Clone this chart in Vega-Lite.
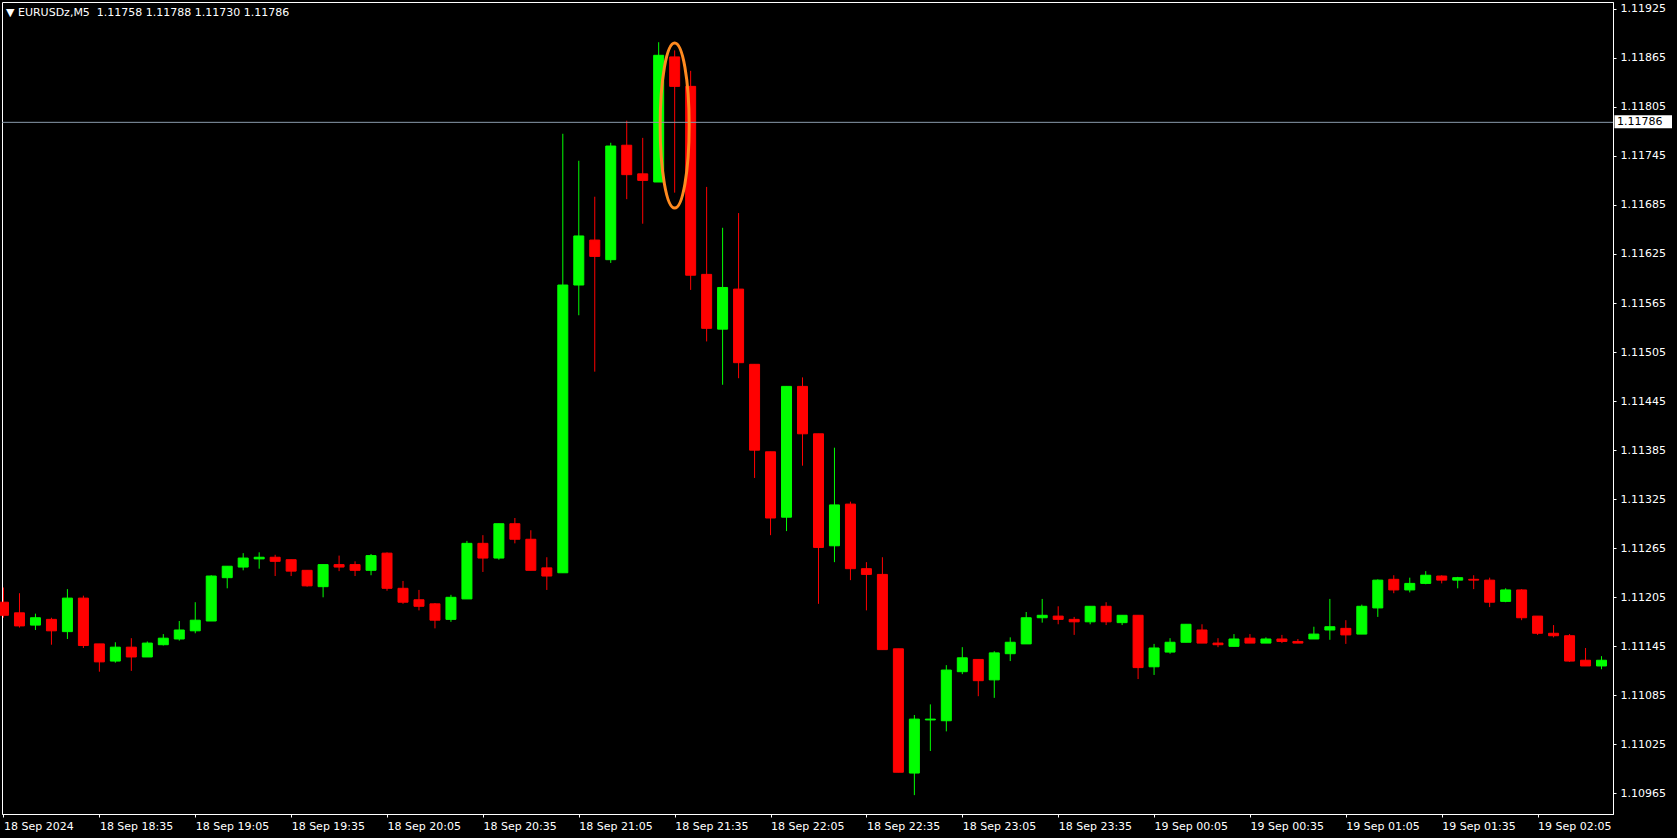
{
  "$schema": "https://vega.github.io/schema/vega-lite/v6.json",
  "width": 1611,
  "height": 812,
  "autosize": {"type": "none"},
  "padding": {"left": 2, "top": 2, "right": 64, "bottom": 24},
  "background": "#000000",
  "title": {
    "text": "▼ EURUSDz,M5 \u00a01.11758 1.11788 1.11730 1.11786",
    "anchor": "start",
    "frame": "group",
    "offset": -16,
    "dx": 4,
    "color": "#ffffff",
    "font": "DejaVu Sans",
    "fontSize": 11,
    "fontWeight": "normal"
  },
  "config": {
    "view": {"stroke": "#ffffff", "strokeWidth": 1},
    "axis": {
      "domainColor": "#ffffff",
      "tickColor": "#ffffff",
      "labelColor": "#ffffff",
      "labelFont": "DejaVu Sans",
      "labelFontSize": 11,
      "grid": false,
      "title": null
    }
  },
  "data": {
    "values": [
      {"t": "2024-09-18T18:05:00Z", "o": 1.11199, "h": 1.11217, "l": 1.11180, "c": 1.11183},
      {"t": "2024-09-18T18:10:00Z", "o": 1.11186, "h": 1.11210, "l": 1.11168, "c": 1.11170},
      {"t": "2024-09-18T18:15:00Z", "o": 1.11171, "h": 1.11185, "l": 1.11165, "c": 1.11180},
      {"t": "2024-09-18T18:20:00Z", "o": 1.11178, "h": 1.11180, "l": 1.11147, "c": 1.11164},
      {"t": "2024-09-18T18:25:00Z", "o": 1.11163, "h": 1.11215, "l": 1.11154, "c": 1.11204},
      {"t": "2024-09-18T18:30:00Z", "o": 1.11204, "h": 1.11207, "l": 1.11143, "c": 1.11146},
      {"t": "2024-09-18T18:35:00Z", "o": 1.11148, "h": 1.11148, "l": 1.11114, "c": 1.11126},
      {"t": "2024-09-18T18:40:00Z", "o": 1.11127, "h": 1.11150, "l": 1.11125, "c": 1.11144},
      {"t": "2024-09-18T18:45:00Z", "o": 1.11144, "h": 1.11155, "l": 1.11115, "c": 1.11132},
      {"t": "2024-09-18T18:50:00Z", "o": 1.11132, "h": 1.11151, "l": 1.11132, "c": 1.11149},
      {"t": "2024-09-18T18:55:00Z", "o": 1.11147, "h": 1.11160, "l": 1.11146, "c": 1.11155},
      {"t": "2024-09-18T19:00:00Z", "o": 1.11154, "h": 1.11176, "l": 1.11152, "c": 1.11165},
      {"t": "2024-09-18T19:05:00Z", "o": 1.11164, "h": 1.11199, "l": 1.11161, "c": 1.11177},
      {"t": "2024-09-18T19:10:00Z", "o": 1.11176, "h": 1.11232, "l": 1.11176, "c": 1.11231},
      {"t": "2024-09-18T19:15:00Z", "o": 1.11229, "h": 1.11243, "l": 1.11216, "c": 1.11243},
      {"t": "2024-09-18T19:20:00Z", "o": 1.11242, "h": 1.11259, "l": 1.11238, "c": 1.11253},
      {"t": "2024-09-18T19:25:00Z", "o": 1.11252, "h": 1.11260, "l": 1.11240, "c": 1.11254},
      {"t": "2024-09-18T19:30:00Z", "o": 1.11254, "h": 1.11257, "l": 1.11231, "c": 1.11249},
      {"t": "2024-09-18T19:35:00Z", "o": 1.11251, "h": 1.11251, "l": 1.11231, "c": 1.11237},
      {"t": "2024-09-18T19:40:00Z", "o": 1.11238, "h": 1.11238, "l": 1.11218, "c": 1.11219},
      {"t": "2024-09-18T19:45:00Z", "o": 1.11218, "h": 1.11245, "l": 1.11205, "c": 1.11245},
      {"t": "2024-09-18T19:50:00Z", "o": 1.11245, "h": 1.11256, "l": 1.11237, "c": 1.11242},
      {"t": "2024-09-18T19:55:00Z", "o": 1.11245, "h": 1.11249, "l": 1.11231, "c": 1.11238},
      {"t": "2024-09-18T20:00:00Z", "o": 1.11238, "h": 1.11258, "l": 1.11232, "c": 1.11256},
      {"t": "2024-09-18T20:05:00Z", "o": 1.11259, "h": 1.11260, "l": 1.11213, "c": 1.11216},
      {"t": "2024-09-18T20:10:00Z", "o": 1.11216, "h": 1.11225, "l": 1.11197, "c": 1.11199},
      {"t": "2024-09-18T20:15:00Z", "o": 1.11202, "h": 1.11214, "l": 1.11189, "c": 1.11194},
      {"t": "2024-09-18T20:20:00Z", "o": 1.11197, "h": 1.11198, "l": 1.11167, "c": 1.11177},
      {"t": "2024-09-18T20:25:00Z", "o": 1.11178, "h": 1.11208, "l": 1.11175, "c": 1.11205},
      {"t": "2024-09-18T20:30:00Z", "o": 1.11203, "h": 1.11274, "l": 1.11203, "c": 1.11271},
      {"t": "2024-09-18T20:35:00Z", "o": 1.11271, "h": 1.11281, "l": 1.11236, "c": 1.11253},
      {"t": "2024-09-18T20:40:00Z", "o": 1.11253, "h": 1.11295, "l": 1.11251, "c": 1.11295},
      {"t": "2024-09-18T20:45:00Z", "o": 1.11295, "h": 1.11302, "l": 1.11271, "c": 1.11276},
      {"t": "2024-09-18T20:50:00Z", "o": 1.11276, "h": 1.11287, "l": 1.11238, "c": 1.11238},
      {"t": "2024-09-18T20:55:00Z", "o": 1.11241, "h": 1.11254, "l": 1.11214, "c": 1.11231},
      {"t": "2024-09-18T21:00:00Z", "o": 1.11235, "h": 1.11772, "l": 1.11235, "c": 1.11587},
      {"t": "2024-09-18T21:05:00Z", "o": 1.11587, "h": 1.11739, "l": 1.11550, "c": 1.11647},
      {"t": "2024-09-18T21:10:00Z", "o": 1.11642, "h": 1.11695, "l": 1.11481, "c": 1.11622},
      {"t": "2024-09-18T21:15:00Z", "o": 1.11618, "h": 1.11761, "l": 1.11614, "c": 1.11757},
      {"t": "2024-09-18T21:20:00Z", "o": 1.11758, "h": 1.11788, "l": 1.11692, "c": 1.11722},
      {"t": "2024-09-18T21:25:00Z", "o": 1.11723, "h": 1.11767, "l": 1.11662, "c": 1.11715},
      {"t": "2024-09-18T21:30:00Z", "o": 1.11713, "h": 1.11884, "l": 1.11713, "c": 1.11868},
      {"t": "2024-09-18T21:35:00Z", "o": 1.11866, "h": 1.11874, "l": 1.11700, "c": 1.11830},
      {"t": "2024-09-18T21:40:00Z", "o": 1.11830, "h": 1.11849, "l": 1.11581, "c": 1.11599},
      {"t": "2024-09-18T21:45:00Z", "o": 1.11600, "h": 1.11707, "l": 1.11518, "c": 1.11534},
      {"t": "2024-09-18T21:50:00Z", "o": 1.11533, "h": 1.11657, "l": 1.11465, "c": 1.11584},
      {"t": "2024-09-18T21:55:00Z", "o": 1.11582, "h": 1.11675, "l": 1.11473, "c": 1.11492},
      {"t": "2024-09-18T22:00:00Z", "o": 1.11490, "h": 1.11490, "l": 1.11351, "c": 1.11385},
      {"t": "2024-09-18T22:05:00Z", "o": 1.11383, "h": 1.11383, "l": 1.11281, "c": 1.11302},
      {"t": "2024-09-18T22:10:00Z", "o": 1.11303, "h": 1.11463, "l": 1.11286, "c": 1.11463},
      {"t": "2024-09-18T22:15:00Z", "o": 1.11463, "h": 1.11474, "l": 1.11366, "c": 1.11405},
      {"t": "2024-09-18T22:20:00Z", "o": 1.11405, "h": 1.11405, "l": 1.11197, "c": 1.11266},
      {"t": "2024-09-18T22:25:00Z", "o": 1.11268, "h": 1.11388, "l": 1.11248, "c": 1.11318},
      {"t": "2024-09-18T22:30:00Z", "o": 1.11319, "h": 1.11322, "l": 1.11226, "c": 1.11240},
      {"t": "2024-09-18T22:35:00Z", "o": 1.11240, "h": 1.11248, "l": 1.11189, "c": 1.11233},
      {"t": "2024-09-18T22:40:00Z", "o": 1.11233, "h": 1.11254, "l": 1.11141, "c": 1.11141},
      {"t": "2024-09-18T22:45:00Z", "o": 1.11142, "h": 1.11142, "l": 1.10991, "c": 1.10991},
      {"t": "2024-09-18T22:50:00Z", "o": 1.10990, "h": 1.11061, "l": 1.10963, "c": 1.11056},
      {"t": "2024-09-18T22:55:00Z", "o": 1.11055, "h": 1.11074, "l": 1.11017, "c": 1.11056},
      {"t": "2024-09-18T23:00:00Z", "o": 1.11054, "h": 1.11122, "l": 1.11041, "c": 1.11116},
      {"t": "2024-09-18T23:05:00Z", "o": 1.11114, "h": 1.11144, "l": 1.11111, "c": 1.11131},
      {"t": "2024-09-18T23:10:00Z", "o": 1.11129, "h": 1.11129, "l": 1.11084, "c": 1.11103},
      {"t": "2024-09-18T23:15:00Z", "o": 1.11104, "h": 1.11139, "l": 1.11082, "c": 1.11137},
      {"t": "2024-09-18T23:20:00Z", "o": 1.11136, "h": 1.11156, "l": 1.11127, "c": 1.11150},
      {"t": "2024-09-18T23:25:00Z", "o": 1.11148, "h": 1.11187, "l": 1.11148, "c": 1.11180},
      {"t": "2024-09-18T23:30:00Z", "o": 1.11180, "h": 1.11203, "l": 1.11174, "c": 1.11183},
      {"t": "2024-09-18T23:35:00Z", "o": 1.11182, "h": 1.11194, "l": 1.11172, "c": 1.11178},
      {"t": "2024-09-18T23:40:00Z", "o": 1.11178, "h": 1.11181, "l": 1.11159, "c": 1.11175},
      {"t": "2024-09-18T23:45:00Z", "o": 1.11175, "h": 1.11194, "l": 1.11172, "c": 1.11194},
      {"t": "2024-09-18T23:50:00Z", "o": 1.11194, "h": 1.11199, "l": 1.11171, "c": 1.11175},
      {"t": "2024-09-18T23:55:00Z", "o": 1.11174, "h": 1.11183, "l": 1.11171, "c": 1.11183},
      {"t": "2024-09-19T00:00:00Z", "o": 1.11183, "h": 1.11183, "l": 1.11105, "c": 1.11119},
      {"t": "2024-09-19T00:05:00Z", "o": 1.11120, "h": 1.11148, "l": 1.11110, "c": 1.11143},
      {"t": "2024-09-19T00:10:00Z", "o": 1.11138, "h": 1.11155, "l": 1.11136, "c": 1.11150},
      {"t": "2024-09-19T00:15:00Z", "o": 1.11150, "h": 1.11172, "l": 1.11150, "c": 1.11172},
      {"t": "2024-09-19T00:20:00Z", "o": 1.11165, "h": 1.11172, "l": 1.11149, "c": 1.11149},
      {"t": "2024-09-19T00:25:00Z", "o": 1.11149, "h": 1.11155, "l": 1.11144, "c": 1.11147},
      {"t": "2024-09-19T00:30:00Z", "o": 1.11145, "h": 1.11160, "l": 1.11145, "c": 1.11154},
      {"t": "2024-09-19T00:35:00Z", "o": 1.11155, "h": 1.11160, "l": 1.11149, "c": 1.11149},
      {"t": "2024-09-19T00:40:00Z", "o": 1.11149, "h": 1.11156, "l": 1.11149, "c": 1.11154},
      {"t": "2024-09-19T00:45:00Z", "o": 1.11154, "h": 1.11159, "l": 1.11149, "c": 1.11151},
      {"t": "2024-09-19T00:50:00Z", "o": 1.11151, "h": 1.11154, "l": 1.11149, "c": 1.11149},
      {"t": "2024-09-19T00:55:00Z", "o": 1.11154, "h": 1.11169, "l": 1.11154, "c": 1.11160},
      {"t": "2024-09-19T01:00:00Z", "o": 1.11165, "h": 1.11203, "l": 1.11153, "c": 1.11169},
      {"t": "2024-09-19T01:05:00Z", "o": 1.11167, "h": 1.11177, "l": 1.11148, "c": 1.11159},
      {"t": "2024-09-19T01:10:00Z", "o": 1.11160, "h": 1.11196, "l": 1.11160, "c": 1.11194},
      {"t": "2024-09-19T01:15:00Z", "o": 1.11192, "h": 1.11227, "l": 1.11181, "c": 1.11226},
      {"t": "2024-09-19T01:20:00Z", "o": 1.11227, "h": 1.11232, "l": 1.11210, "c": 1.11214},
      {"t": "2024-09-19T01:25:00Z", "o": 1.11214, "h": 1.11229, "l": 1.11211, "c": 1.11222},
      {"t": "2024-09-19T01:30:00Z", "o": 1.11222, "h": 1.11237, "l": 1.11221, "c": 1.11232},
      {"t": "2024-09-19T01:35:00Z", "o": 1.11231, "h": 1.11232, "l": 1.11222, "c": 1.11226},
      {"t": "2024-09-19T01:40:00Z", "o": 1.11226, "h": 1.11230, "l": 1.11216, "c": 1.11229},
      {"t": "2024-09-19T01:45:00Z", "o": 1.11227, "h": 1.11232, "l": 1.11215, "c": 1.11226},
      {"t": "2024-09-19T01:50:00Z", "o": 1.11226, "h": 1.11229, "l": 1.11193, "c": 1.11199},
      {"t": "2024-09-19T01:55:00Z", "o": 1.11200, "h": 1.11216, "l": 1.11199, "c": 1.11214},
      {"t": "2024-09-19T02:00:00Z", "o": 1.11214, "h": 1.11215, "l": 1.11177, "c": 1.11180},
      {"t": "2024-09-19T02:05:00Z", "o": 1.11182, "h": 1.11182, "l": 1.11159, "c": 1.11161},
      {"t": "2024-09-19T02:10:00Z", "o": 1.11161, "h": 1.11171, "l": 1.11156, "c": 1.11158},
      {"t": "2024-09-19T02:15:00Z", "o": 1.11158, "h": 1.11160, "l": 1.11126, "c": 1.11127},
      {"t": "2024-09-19T02:20:00Z", "o": 1.11128, "h": 1.11143, "l": 1.11121, "c": 1.11121},
      {"t": "2024-09-19T02:25:00Z", "o": 1.11121, "h": 1.11133, "l": 1.11117, "c": 1.11128}
    ]
  },
  "layer": [
    {
      "mark": {"type": "rule", "strokeWidth": 1},
      "encoding": {
        "x": {
          "field": "t",
          "type": "temporal",
          "scale": {
            "type": "utc",
            "padding": 0,
            "domain": [
              {"year": 2024, "month": 9, "date": 18, "hours": 18, "minutes": 4, "seconds": 31, "milliseconds": 875, "utc": true},
              {"year": 2024, "month": 9, "date": 19, "hours": 2, "minutes": 28, "seconds": 35, "milliseconds": 625, "utc": true}
            ]
          },
          "axis": {
            "orient": "bottom",
            "values": [
              {"year": 2024, "month": 9, "date": 18, "hours": 18, "minutes": 5, "utc": true},
              {"year": 2024, "month": 9, "date": 18, "hours": 18, "minutes": 35, "utc": true},
              {"year": 2024, "month": 9, "date": 18, "hours": 19, "minutes": 5, "utc": true},
              {"year": 2024, "month": 9, "date": 18, "hours": 19, "minutes": 35, "utc": true},
              {"year": 2024, "month": 9, "date": 18, "hours": 20, "minutes": 5, "utc": true},
              {"year": 2024, "month": 9, "date": 18, "hours": 20, "minutes": 35, "utc": true},
              {"year": 2024, "month": 9, "date": 18, "hours": 21, "minutes": 5, "utc": true},
              {"year": 2024, "month": 9, "date": 18, "hours": 21, "minutes": 35, "utc": true},
              {"year": 2024, "month": 9, "date": 18, "hours": 22, "minutes": 5, "utc": true},
              {"year": 2024, "month": 9, "date": 18, "hours": 22, "minutes": 35, "utc": true},
              {"year": 2024, "month": 9, "date": 18, "hours": 23, "minutes": 5, "utc": true},
              {"year": 2024, "month": 9, "date": 18, "hours": 23, "minutes": 35, "utc": true},
              {"year": 2024, "month": 9, "date": 19, "hours": 0, "minutes": 5, "utc": true},
              {"year": 2024, "month": 9, "date": 19, "hours": 0, "minutes": 35, "utc": true},
              {"year": 2024, "month": 9, "date": 19, "hours": 1, "minutes": 5, "utc": true},
              {"year": 2024, "month": 9, "date": 19, "hours": 1, "minutes": 35, "utc": true},
              {"year": 2024, "month": 9, "date": 19, "hours": 2, "minutes": 5, "utc": true}
            ],
            "labelExpr": "datum.index === 0 ? '18 Sep 2024' : utcFormat(datum.value, '%d %b %H:%M')",
            "labelAlign": "left",
            "labelFlush": false,
            "labelOverlap": false,
            "tickSize": 3,
            "labelPadding": 3
          }
        },
        "y": {
          "field": "l",
          "type": "quantitative",
          "scale": {"domain": [1.1093992, 1.119332], "zero": false, "nice": false, "padding": 0},
          "axis": {
            "orient": "right",
            "values": [1.11925, 1.11865, 1.11805, 1.11745, 1.11685, 1.11625, 1.11565, 1.11505, 1.11445, 1.11385, 1.11325, 1.11265, 1.11205, 1.11145, 1.11085, 1.11025, 1.10965],
            "format": ".5f",
            "tickSize": 3,
            "labelPadding": 4,
            "labelFlush": false,
            "labelOverlap": false
          }
        },
        "y2": {"field": "h"},
        "color": {"condition": {"test": "datum.c >= datum.o", "value": "#00ff00"}, "value": "#ff0000"}
      }
    },
    {
      "mark": {"type": "bar", "width": 10, "strokeWidth": 1},
      "encoding": {
        "x": {"field": "t", "type": "temporal"},
        "y": {"field": "o", "type": "quantitative"},
        "y2": {"field": "c"},
        "fill": {"condition": {"test": "datum.c >= datum.o", "value": "#00ff00"}, "value": "#ff0000"},
        "stroke": {"condition": {"test": "datum.c >= datum.o", "value": "#00ff00"}, "value": "#ff0000"}
      }
    },
    {
      "data": {"values": [{"price": 1.11786}]},
      "mark": {"type": "rule", "color": "#8a9aab", "strokeWidth": 1},
      "encoding": {"y": {"field": "price", "type": "quantitative"}}
    },
    {
      "data": {"values": [{"t": "2024-09-18T21:35:00Z", "price": 1.11782}]},
      "mark": {
        "type": "point",
        "shape": "M0,-1A0.1758,1,0,1,1,0,1A0.1758,1,0,1,1,0,-1Z",
        "size": 27225,
        "filled": false,
        "stroke": "#ff8a1f",
        "strokeWidth": 3,
        "opacity": 1
      },
      "encoding": {
        "x": {"field": "t", "type": "temporal"},
        "y": {"field": "price", "type": "quantitative"}
      }
    },
    {
      "data": {"values": [{"price": 1.11786}]},
      "mark": {"type": "rect", "color": "#ffffff", "xOffset": 1.5, "x2Offset": 59, "yOffset": -7, "y2Offset": 6, "clip": false},
      "encoding": {
        "x": {"value": "width"},
        "x2": {"value": "width"},
        "y": {"field": "price", "type": "quantitative"},
        "y2": {"field": "price"}
      }
    },
    {
      "data": {"values": [{"price": 1.11786}]},
      "mark": {"type": "text", "color": "#000000", "font": "DejaVu Sans", "fontSize": 11, "align": "left", "baseline": "middle", "dx": 4, "dy": 0},
      "encoding": {
        "x": {"value": "width"},
        "y": {"field": "price", "type": "quantitative"},
        "text": {"field": "price", "type": "quantitative", "format": ".5f"}
      }
    }
  ]
}
